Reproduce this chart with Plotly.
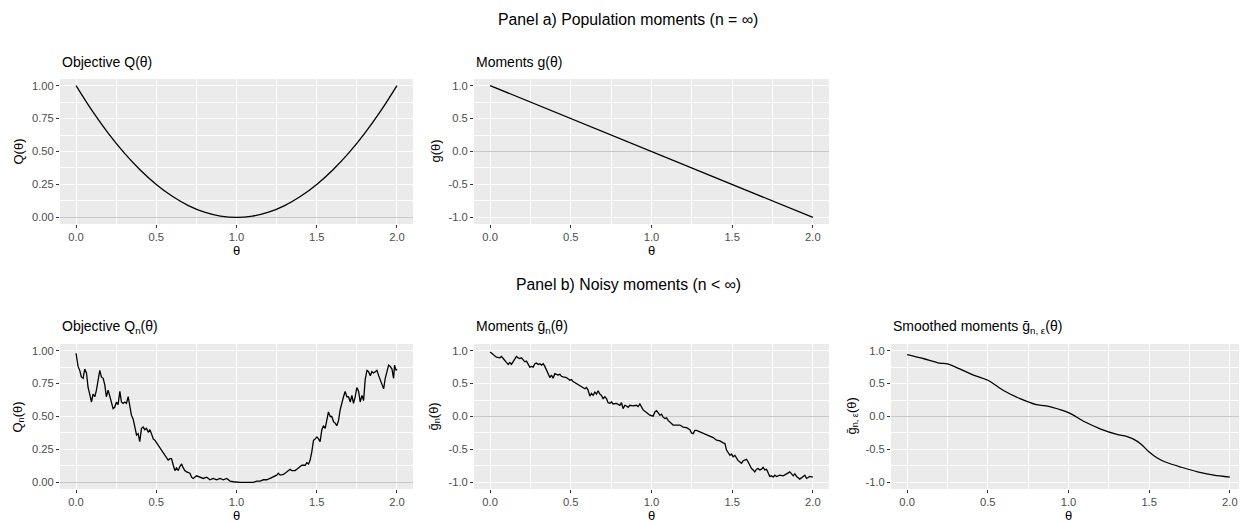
import plotly.graph_objects as go

# ---------------- data ----------------
theta_pop = [0.0, 0.1, 0.2, 0.3, 0.4, 0.5, 0.6, 0.7, 0.8, 0.9, 1.0,
             1.1, 1.2, 1.3, 1.4, 1.5, 1.6, 1.7, 1.8, 1.9, 2.0]
q_pop = [1.00, 0.81, 0.64, 0.49, 0.36, 0.25, 0.16, 0.09, 0.04, 0.01, 0.00,
         0.01, 0.04, 0.09, 0.16, 0.25, 0.36, 0.49, 0.64, 0.81, 1.00]
g_pop = [1.0, 0.9, 0.8, 0.7, 0.6, 0.5, 0.4, 0.3, 0.2, 0.1, 0.0,
         -0.1, -0.2, -0.3, -0.4, -0.5, -0.6, -0.7, -0.8, -0.9, -1.0]

theta_qn = [0, 0.0125, 0.023, 0.033, 0.044, 0.054, 0.065, 0.075, 0.085, 0.096,
            0.106, 0.117, 0.127, 0.137, 0.148, 0.158, 0.169, 0.179, 0.189, 0.200,
            0.210, 0.221, 0.231, 0.241, 0.252, 0.262, 0.273, 0.283, 0.293, 0.304,
            0.314, 0.325, 0.335, 0.345, 0.356, 0.366, 0.377, 0.387, 0.397, 0.408,
            0.418, 0.429, 0.439, 0.450, 0.460, 0.470, 0.481, 0.491, 0.502, 0.512,
            0.522, 0.533, 0.543, 0.564, 0.574, 0.585, 0.595, 0.606, 0.616, 0.626,
            0.637, 0.647, 0.658, 0.668, 0.678, 0.689, 0.710, 0.720, 0.730, 0.751,
            0.772, 0.793, 0.814, 0.835, 0.855, 0.876, 0.897, 0.918, 0.939, 0.960,
            0.981, 1.000, 1.022, 1.063, 1.105, 1.126, 1.147, 1.168, 1.188, 1.209,
            1.230, 1.251, 1.261, 1.272, 1.293, 1.313, 1.334, 1.344, 1.365, 1.386,
            1.407, 1.428, 1.438, 1.449, 1.459, 1.469, 1.480, 1.490, 1.501, 1.511,
            1.521, 1.532, 1.542, 1.553, 1.563, 1.573, 1.584, 1.594, 1.605, 1.615,
            1.625, 1.636, 1.646, 1.657, 1.667, 1.677, 1.688, 1.698, 1.709, 1.719,
            1.729, 1.740, 1.750, 1.761, 1.771, 1.782, 1.792, 1.802, 1.813, 1.823,
            1.834, 1.844, 1.854, 1.865, 1.875, 1.886, 1.896, 1.906, 1.917, 1.927,
            1.938, 1.948, 1.958, 1.969, 1.979, 1.985, 1.994, 2.0]
q_n = [0.98, 0.88, 0.85, 0.80, 0.79, 0.86, 0.83, 0.72, 0.67, 0.61,
       0.67, 0.65, 0.70, 0.78, 0.85, 0.80, 0.79, 0.74, 0.65, 0.70,
       0.65, 0.59, 0.56, 0.57, 0.61, 0.59, 0.69, 0.61, 0.60, 0.61,
       0.60, 0.65, 0.57, 0.51, 0.48, 0.42, 0.36, 0.37, 0.31, 0.41,
       0.42, 0.40, 0.41, 0.38, 0.40, 0.37, 0.33, 0.32, 0.30, 0.28,
       0.26, 0.245, 0.23, 0.19, 0.17, 0.18, 0.18, 0.13, 0.09, 0.11,
       0.09, 0.12, 0.14, 0.11, 0.09, 0.08, 0.07, 0.04, 0.03, 0.05,
       0.04, 0.03, 0.04, 0.02, 0.03, 0.02, 0.03, 0.02, 0.03, 0.01,
       0.005, 0.00, 0.00, 0.00, 0.00, 0.01, 0.01, 0.02, 0.02, 0.03,
       0.04, 0.055, 0.07, 0.055, 0.06, 0.08, 0.10, 0.09, 0.09, 0.11,
       0.13, 0.13, 0.15, 0.14, 0.17, 0.23, 0.32, 0.33, 0.345, 0.33,
       0.31, 0.40, 0.43, 0.41, 0.47, 0.535, 0.50, 0.50, 0.46, 0.45,
       0.43, 0.47, 0.55, 0.61, 0.65, 0.69, 0.65, 0.65, 0.61, 0.66,
       0.60, 0.65, 0.72, 0.69, 0.61, 0.66, 0.62, 0.78, 0.85, 0.84,
       0.81, 0.84, 0.83, 0.84, 0.85, 0.81, 0.78, 0.74, 0.71, 0.79,
       0.85, 0.89, 0.88, 0.86, 0.79, 0.89, 0.85, 0.86]

theta_gn = [0, 0.019, 0.039, 0.060, 0.070, 0.081, 0.091, 0.101, 0.112, 0.122,
            0.132, 0.143, 0.153, 0.163, 0.174, 0.184, 0.194, 0.205, 0.215, 0.225,
            0.236, 0.246, 0.256, 0.267, 0.277, 0.287, 0.298, 0.308, 0.318, 0.329,
            0.339, 0.349, 0.360, 0.370, 0.380, 0.390, 0.401, 0.411, 0.421, 0.432,
            0.442, 0.452, 0.473, 0.494, 0.504, 0.514, 0.535, 0.556, 0.576, 0.587,
            0.597, 0.607, 0.618, 0.628, 0.638, 0.649, 0.659, 0.669, 0.680, 0.690,
            0.700, 0.711, 0.721, 0.731, 0.742, 0.752, 0.762, 0.783, 0.804, 0.814,
            0.824, 0.835, 0.845, 0.855, 0.866, 0.886, 0.907, 0.917, 0.928, 0.938,
            0.948, 0.969, 0.990, 1.010, 1.021, 1.031, 1.041, 1.052, 1.062, 1.072,
            1.083, 1.093, 1.103, 1.114, 1.124, 1.134, 1.155, 1.176, 1.196, 1.217,
            1.238, 1.248, 1.258, 1.269, 1.279, 1.300, 1.320, 1.341, 1.362, 1.382,
            1.403, 1.424, 1.444, 1.455, 1.465, 1.475, 1.486, 1.496, 1.506, 1.517,
            1.527, 1.537, 1.548, 1.558, 1.568, 1.579, 1.589, 1.599, 1.610, 1.620,
            1.630, 1.640, 1.651, 1.661, 1.671, 1.682, 1.692, 1.702, 1.713, 1.723,
            1.733, 1.744, 1.754, 1.764, 1.775, 1.795, 1.816, 1.837, 1.857, 1.868,
            1.878, 1.888, 1.899, 1.919, 1.940, 1.950, 1.961, 1.971, 1.981, 2.0]
g_n = [0.98, 0.94, 0.90, 0.89, 0.91, 0.88, 0.84, 0.82, 0.79, 0.82,
       0.79, 0.84, 0.88, 0.91, 0.89, 0.88, 0.89, 0.85, 0.83, 0.84,
       0.78, 0.75, 0.76, 0.75, 0.80, 0.81, 0.79, 0.80, 0.78, 0.80,
       0.76, 0.70, 0.65, 0.59, 0.63, 0.58, 0.65, 0.64, 0.63, 0.64,
       0.61, 0.60, 0.59, 0.55, 0.56, 0.53, 0.50, 0.47, 0.44, 0.42,
       0.44, 0.40, 0.31, 0.35, 0.32, 0.37, 0.34, 0.39, 0.34, 0.32,
       0.27, 0.30, 0.27, 0.21, 0.20, 0.22, 0.19, 0.20, 0.17, 0.21,
       0.12, 0.17, 0.16, 0.14, 0.17, 0.16, 0.17, 0.15, 0.19, 0.15,
       0.10, 0.06, 0.02, 0.005, 0.07, 0.09, 0.05, 0.02, 0.035, -0.01,
       -0.03, -0.02, -0.06, -0.08, -0.10, -0.13, -0.13, -0.13, -0.16, -0.17,
       -0.20, -0.25, -0.26, -0.21, -0.21, -0.23, -0.26, -0.28, -0.30, -0.32,
       -0.36, -0.37, -0.40, -0.41, -0.51, -0.56, -0.59, -0.57, -0.61, -0.59,
       -0.64, -0.67, -0.69, -0.71, -0.67, -0.66, -0.65, -0.69, -0.74, -0.79,
       -0.81, -0.84, -0.80, -0.79, -0.81, -0.80, -0.77, -0.81, -0.80, -0.85,
       -0.91, -0.90, -0.92, -0.89, -0.91, -0.89, -0.90, -0.87, -0.84, -0.87,
       -0.90, -0.87, -0.91, -0.95, -0.91, -0.89, -0.94, -0.92, -0.91, -0.92]

theta_s = [0, 0.1, 0.2, 0.25, 0.3, 0.4, 0.5, 0.6, 0.7, 0.8, 0.85, 0.9, 1.0,
           1.1, 1.2, 1.3, 1.36, 1.4, 1.45, 1.5, 1.55, 1.6, 1.7, 1.8, 1.9, 2.0]
g_s = [0.94, 0.88, 0.81, 0.80, 0.75, 0.64, 0.55, 0.39, 0.27, 0.18, 0.165, 0.14, 0.06,
       -0.08, -0.19, -0.27, -0.30, -0.34, -0.42, -0.54, -0.63, -0.69, -0.77, -0.84,
       -0.89, -0.92]

assert len(theta_qn) == len(q_n)
assert len(theta_gn) == len(g_n)
assert len(theta_s) == len(g_s)

x_ticks = [0.0, 0.5, 1.0, 1.5, 2.0]
x_minor = [0.25, 0.75, 1.25, 1.75]
q_ticks = [0.0, 0.25, 0.5, 0.75, 1.0]
q_minor = [0.125, 0.375, 0.625, 0.875]
g_ticks = [-1.0, -0.5, 0.0, 0.5, 1.0]
g_minor = [-0.75, -0.25, 0.25, 0.75]

# ---------------- layout helpers ----------------
# The page body has an 8 px margin, so the figure is placed at (8, 8) in the window.
OFF = 8
W, H = 1247 - OFF, 525 - OFF
FONT = "Liberation Sans"


def px(x):
    return (x - OFF) / W


def py(y):
    return 1 - (y - OFF) / H


panels = [  # (left, right, top, bottom) in window pixels
    (60, 413, 79, 224),
    (474, 829, 79, 224),
    (60, 413, 344, 489),
    (474, 829, 344, 489),
    (891, 1246, 344, 489),
]

fig = go.Figure()
line = dict(color="black", width=1.3)
fig.add_trace(go.Scatter(x=theta_pop, y=q_pop, mode="lines", line=dict(line, shape="spline"),
                         xaxis="x", yaxis="y"))
fig.add_trace(go.Scatter(x=theta_pop, y=g_pop, mode="lines", line=line, xaxis="x2", yaxis="y2"))
fig.add_trace(go.Scatter(x=theta_qn, y=q_n, mode="lines", line=line, xaxis="x3", yaxis="y3"))
fig.add_trace(go.Scatter(x=theta_gn, y=g_n, mode="lines", line=line, xaxis="x4", yaxis="y4"))
fig.add_trace(go.Scatter(x=theta_s, y=g_s, mode="lines", line=dict(line, shape="spline", smoothing=0.8),
                         xaxis="x5", yaxis="y5"))

tickfont = dict(family=FONT, size=11.2, color="#4D4D4D")
common = dict(showgrid=True, gridcolor="white", gridwidth=1.1, ticks="outside", ticklen=3,
              tickwidth=1, tickcolor="#333333", tickfont=tickfont, showline=False,
              fixedrange=True)

layout = dict(width=W, height=H, autosize=False, margin=dict(l=0, r=0, t=0, b=0),
              paper_bgcolor="white", plot_bgcolor="#EBEBEB", showlegend=False,
              font=dict(family=FONT, color="black"))

ykinds = ["q", "g", "q", "g", "g"]
for i, ((l, r, t, b), kind) in enumerate(zip(panels, ykinds), start=1):
    sfx = "" if i == 1 else str(i)
    layout["xaxis" + sfx] = dict(common, domain=[px(l), px(r)], anchor="y" + sfx,
                                 range=[-0.1, 2.1], tickmode="array", tickvals=x_ticks,
                                 ticktext=[f"{v:.1f}" for v in x_ticks], zeroline=False,
                                 minor=dict(tickvals=x_minor, showgrid=True, gridcolor="white",
                                            gridwidth=0.55, ticks=""))
    if kind == "q":
        yr, yt, ym, fmt = [-0.05, 1.05], q_ticks, q_minor, "{:.2f}"
    else:
        yr, yt, ym, fmt = [-1.1, 1.1], g_ticks, g_minor, "{:.1f}"
    layout["yaxis" + sfx] = dict(common, domain=[py(b), py(t)], anchor="x" + sfx,
                                 range=yr, tickmode="array", tickvals=yt,
                                 ticktext=[fmt.format(v) for v in yt],
                                 zeroline=True, zerolinecolor="#C9C9C9", zerolinewidth=1.1,
                                 minor=dict(tickvals=ym, showgrid=True, gridcolor="white",
                                            gridwidth=0.55, ticks=""))

fig.update_layout(**layout)

ann = []


def text(x, y, s, size, xanchor="center", angle=0, color="black"):
    ann.append(dict(x=px(x), y=py(y), xref="paper", yref="paper", text=s, showarrow=False,
                    xanchor=xanchor, yanchor="middle", textangle=angle,
                    font=dict(family=FONT, size=size, color=color)))


# Panel headings
text(628, 19, "Panel a) Population moments (n = ∞)", 15.8)
text(628, 284, "Panel b) Noisy moments (n < ∞)", 15.8)

# Subplot titles
sub_titles = ["Objective Q(θ)", "Moments g(θ)", "Objective Q<sub>n</sub>(θ)",
              "Moments ḡ<sub>n</sub>(θ)", "Smoothed moments ḡ<sub>n, ε</sub>(θ)"]
y_titles = ["Q(θ)", "g(θ)", "Q<sub>n</sub>(θ)", "ḡ<sub>n</sub>(θ)", "ḡ<sub>n, ε</sub>(θ)"]
ytitle_x = [18, 435, 18, 434, 852]
for (l, r, t, b), st, yt_, yx in zip(panels, sub_titles, y_titles, ytitle_x):
    text(l, t - 17, st, 14, xanchor="left")
    text((l + r) / 2, b + 27, "θ", 13)
    text(yx, (t + b) / 2, yt_, 13, angle=-90)

fig.update_layout(annotations=ann)
fig.write_html("out.html")
